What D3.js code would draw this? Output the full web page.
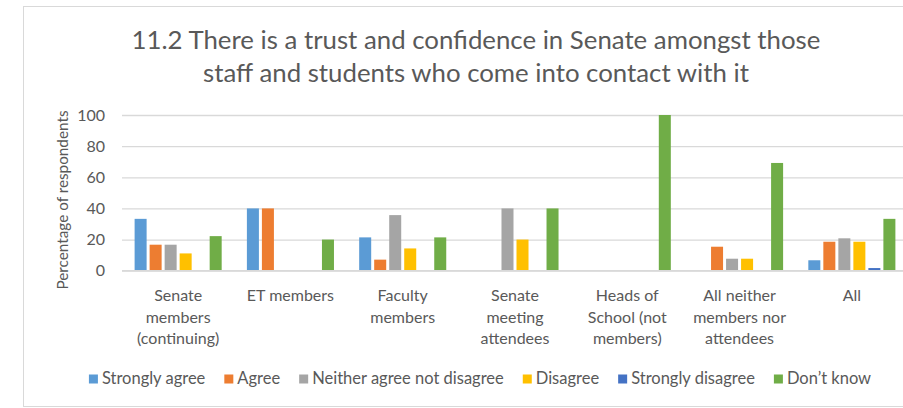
<!DOCTYPE html>
<html>
<head>
<meta charset="utf-8">
<script src="https://cdn.jsdelivr.net/npm/d3@7"></script>
<style>
  html, body { margin: 0; padding: 0; background: #fff; }
  svg { display: block; }
  text { font-family: Lato, "Open Sans", sans-serif; fill: #595959; }
</style>
</head>
<body>
<svg id="chart" width="903" height="408"></svg>
<script>
// Survey question 11.2 – share of respondents per answer, by respondent group
const titleLines = [
  "11.2 There is a trust and confidence in Senate amongst those",
  "staff and students who come into contact with it"
];
const categories = [
  "Senate members (continuing)",
  "ET members",
  "Faculty members",
  "Senate meeting attendees",
  "Heads of School (not members)",
  "All neither members nor attendees",
  "All"
];
const seriesNames = [
  "Strongly agree",
  "Agree",
  "Neither agree not disagree",
  "Disagree",
  "Strongly disagree",
  "Don\u2019t know"
];
const seriesColors = ["#5B9BD5", "#ED7D31", "#A5A5A5", "#FFC000", "#4472C4", "#70AD47"];

// One array per answer, one value per respondent group (percent)
const stronglyAgree    = [33.3, 40, 21.4, 0, 0, 0, 6.7];
const agree            = [16.7, 40, 7.1, 0, 0, 15.4, 18.6];
const neither          = [16.7, 0, 35.7, 40, 0, 7.7, 20.8];
const disagree         = [11.1, 0, 14.3, 20, 0, 7.7, 18.6];
const stronglyDisagree = [0, 0, 0, 0, 0, 0, 1.7];
const dontKnow         = [22.2, 20, 21.4, 40, 100, 69.2, 33.3];
const seriesValues = [stronglyAgree, agree, neither, disagree, stronglyDisagree, dontKnow];

const yTicks = [0, 20, 40, 60, 80, 100];
const yLabel = "Percentage of respondents";

const svg = d3.select("#chart");
const W = 903, H = 408;

// chart frame
svg.append("rect")
  .attr("x", 23.5).attr("y", 6.5)
  .attr("width", W + 20).attr("height", 400)
  .attr("fill", "#fff").attr("stroke", "#d9d9d9").attr("stroke-width", 1);

// title
const title = svg.append("text")
  .attr("text-anchor", "middle")
  .style("font-size", "25.8px");
titleLines.forEach((line, i) => {
  title.append("tspan").attr("x", 476).attr("y", 48.5 + i * 33.5).text(line);
});

const plot = { left: 122, right: 908, top: 115, bottom: 270.7 };

const x0 = d3.scaleBand().domain(categories).range([plot.left, plot.right]);
const x1 = d3.scaleBand().domain(seriesNames).range([0, x0.bandwidth()])
  .paddingInner(0.2).paddingOuter(0.84);
const y = d3.scaleLinear().domain([0, 100]).range([plot.bottom, plot.top]);

// gridlines
const yAxis = d3.axisLeft(y).tickValues(yTicks).tickSize(-(plot.right - plot.left)).tickPadding(17);
const gy = svg.append("g").attr("transform", `translate(${plot.left},0)`).call(yAxis);
gy.select(".domain").remove();
gy.selectAll(".tick line").attr("stroke", "#d9d9d9").attr("stroke-width", 1.3);
gy.selectAll(".tick text").style("font-size", "16px").attr("fill", "#595959")
  .style("font-family", "Lato, 'Open Sans', sans-serif");

// y axis title
svg.append("text")
  .attr("transform", `translate(67.5,200) rotate(-90)`)
  .attr("text-anchor", "middle")
  .style("font-size", "15.3px")
  .text(yLabel);

// bars
const groups = svg.append("g").selectAll("g")
  .data(categories)
  .join("g")
  .attr("transform", d => `translate(${x0(d)},0)`);

groups.selectAll("rect")
  .data((c, ci) => seriesNames.map((s, si) => ({ s, si, v: seriesValues[si][ci] })))
  .join("rect")
  .filter(d => d.v > 0)
  .attr("x", d => x1(d.s))
  .attr("width", x1.bandwidth())
  .attr("y", d => y(d.v))
  .attr("height", d => y(0) - y(d.v))
  .attr("fill", d => seriesColors[d.si]);

// baseline
svg.append("line")
  .attr("x1", plot.left).attr("x2", plot.right)
  .attr("y1", y(0)).attr("y2", y(0))
  .attr("stroke", "#d9d9d9").attr("stroke-width", 1.6);

// category labels, wrapped to the band
const labelSize = 16;
const maxLine = 104;
const measurer = svg.append("text").style("font-size", labelSize + "px").attr("visibility", "hidden");
function wrap(str) {
  const words = str.split(" ");
  const lines = [];
  let cur = "";
  words.forEach(w => {
    const test = cur ? cur + " " + w : w;
    measurer.text(test);
    if (cur && measurer.node().getComputedTextLength() > maxLine) {
      lines.push(cur); cur = w;
    } else cur = test;
  });
  if (cur) lines.push(cur);
  return lines;
}
categories.forEach(c => {
  const t = svg.append("text")
    .attr("text-anchor", "middle")
    .style("font-size", labelSize + "px");
  wrap(c).forEach((line, i) => {
    t.append("tspan")
      .attr("x", x0(c) + x0.bandwidth() / 2)
      .attr("y", 301 + i * 21.7)
      .text(line);
  });
});
measurer.remove();

// legend
const legend = svg.append("g");
let lx = 0;
seriesNames.forEach((s, i) => {
  const g = legend.append("g").attr("transform", `translate(${lx},0)`);
  g.append("rect").attr("x", 0).attr("y", 374.5).attr("width", 9).attr("height", 9)
    .attr("fill", seriesColors[i]);
  const t = g.append("text").attr("x", 13).attr("y", 384)
    .style("font-size", "16.5px").text(s);
  lx += 13 + t.node().getComputedTextLength() + 19;
});
const legendWidth = lx - 19;
legend.attr("transform", `translate(${480 - legendWidth / 2},0)`);
</script>
</body>
</html>
